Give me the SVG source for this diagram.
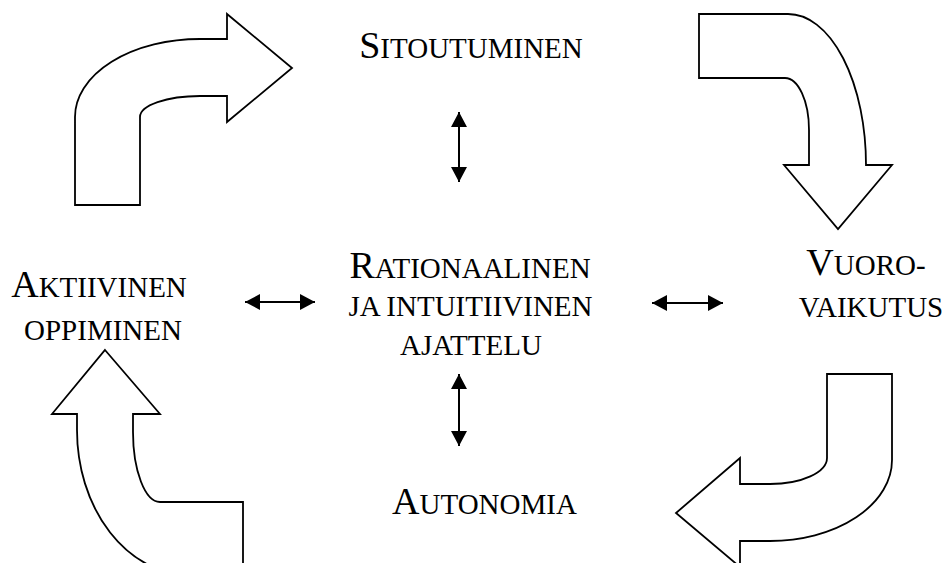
<svg xmlns="http://www.w3.org/2000/svg" width="946" height="563" viewBox="0 0 946 563">
<style>
.lbl{font-family:"Liberation Serif","Times New Roman",serif;fill:#000;text-anchor:middle}
.big{font-size:38px}
.sm{font-size:29px}
.bend{fill:#fff;stroke:#000;stroke-width:1.8;stroke-linejoin:miter}
.conn{stroke:#000;stroke-width:2;fill:none;marker-start:url(#ah);marker-end:url(#ah)}
</style>
<defs>
<marker id="ah" markerUnits="userSpaceOnUse" markerWidth="16" markerHeight="16" refX="15" refY="8" orient="auto-start-reverse" viewBox="0 0 16 16">
<path d="M0,0 L15,8 L0,16 Z" fill="#000"/>
</marker>
</defs>
<rect width="946" height="563" fill="#fff"/>
<g id="cycle-arrows">
<path id="arrow-tl" class="bend" d="M75,205 L75,117 A125,78 0 0 1 200,39 L227,39 L227,14 L292,68 L227,122 L227,96 L200,96 A60,21 0 0 0 140,117 L140,205 Z"/>
<path id="arrow-tr" class="bend" d="M699,14 L788,14 A78,151 0 0 1 866,165 L892,165 L838,229 L784,165 L809,165 L809,130 A24,52 0 0 0 785,78 L699,78 Z"/>
<path id="arrow-br" class="bend" d="M827,374 L892,374 L892,460 A122,81 0 0 1 770,541 L740,541 L740,567 L676,513 L740,458 L740,484 L770,484 A57,26 0 0 0 827,458 Z"/>
<path id="arrow-bl" class="bend" d="M105,350 L160,414 L133,414 L133,432 A27,70 0 0 0 160,502 L243,502 L243,575 L190,575 A113,145 0 0 1 77,430 L77,414 L52,414 Z"/>
</g>
<g id="connectors">
<line class="conn" x1="459" y1="112" x2="459" y2="182"/>
<line class="conn" x1="459" y1="374" x2="459" y2="446"/>
<line class="conn" x1="245" y1="302" x2="315" y2="302"/>
<line class="conn" x1="652" y1="303" x2="723" y2="303"/>
</g>
<g id="node-sitoutuminen">
<text class="lbl" x="471" y="58"><tspan class="big">S</tspan><tspan class="sm">ITOUTUMINEN</tspan></text>
</g>
<g id="node-ajattelu">
<text class="lbl" x="470" y="278"><tspan class="big">R</tspan><tspan class="sm">ATIONAALINEN</tspan></text>
<text class="lbl sm" x="470.5" y="316">JA INTUITIIVINEN</text>
<text class="lbl sm" x="471" y="355">AJATTELU</text>
</g>
<g id="node-aktiivinen">
<text class="lbl" x="99" y="297"><tspan class="big">A</tspan><tspan class="sm">KTIIVINEN</tspan></text>
<text class="lbl sm" x="103" y="340">OPPIMINEN</text>
</g>
<g id="node-vuorovaikutus">
<text class="lbl" x="866" y="275"><tspan class="big">V</tspan><tspan class="sm">UORO-</tspan></text>
<text class="lbl sm" x="871" y="317">VAIKUTUS</text>
</g>
<g id="node-autonomia">
<text class="lbl" x="484.5" y="514"><tspan class="big">A</tspan><tspan class="sm">UTONOMIA</tspan></text>
</g>
</svg>
